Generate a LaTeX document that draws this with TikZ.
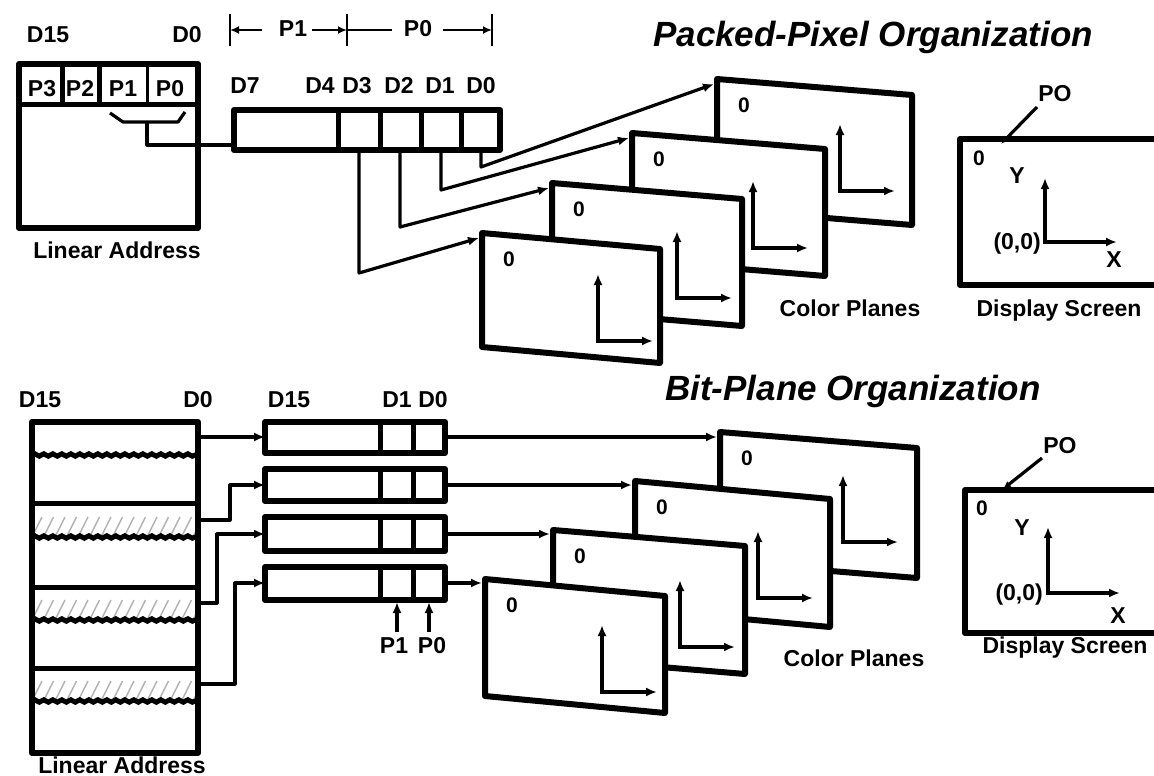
\documentclass[tikz,border=0pt]{standalone}
\usepackage{fontspec}
\setmainfont{Liberation Sans}
\usetikzlibrary{arrows.meta,calc,decorations.pathmorphing}
\tikzset{
  box/.style={line width=6pt, line join=round},
  divider/.style={line width=5pt},
  thindiv/.style={line width=3.5pt},
  conn/.style={line width=3.2pt, line join=round},
  tip/.style={-{Latex[length=11pt,width=9pt]}},
  smalltip/.style={-{Latex[length=8pt,width=7pt]}},
  axis/.style={line width=3.2pt, {Latex[length=11pt,width=9pt]}-{Latex[length=11pt,width=9pt]}},
  planebox/.style={line width=6pt, line join=round, fill=white},
  lbl/.style={font=\bfseries\fontsize{23}{23}\selectfont, inner sep=0pt, anchor=base},
  cell/.style={font=\bfseries\fontsize{23}{23}\selectfont, inner sep=0pt, anchor=base},
  zero/.style={font=\bfseries\fontsize{21}{21}\selectfont, inner sep=0pt},
  ttl/.style={font=\bfseries\itshape\fontsize{35}{35}\selectfont, inner sep=0pt, anchor=base west},
  hatch/.style={gray!60, line width=1.4pt},
  wavy/.style={line width=5pt, decorate, decoration={snake, segment length=9pt, amplitude=1.2pt}},
}
\newcommand\colorplane[8]{%
  \coordinate (#1-tl) at (#2,#3);
  \coordinate (#1-tr) at ($(#1-tl)+(#4,#5)$);
  \coordinate (#1-br) at ($(#1-tr)+(0,#6)$);
  \coordinate (#1-bl) at ($(#1-tl)+(0,#6)$);
  \draw[planebox] (#1-tl) -- (#1-tr) -- (#1-br) -- (#1-bl) -- cycle;
  \node[zero] (#1-z) at ($(#1-tl)+(27,26)$) {0};
  \coordinate (#1-o) at ($(#1-tl)+(#7,#8)$);
  \coordinate (#1-y) at ($(#1-o)+(0,-67)$);
  \coordinate (#1-x) at ($(#1-o)+(55,0)$);
  \draw[axis] (#1-y) -- (#1-o) -- (#1-x);
}
\newcommand\hatchrow[2]{%
  \begin{scope}
    \clip (35,#1) rectangle (195,#2);
    \foreach \k in {0,...,14} {
      \draw[hatch] (32+\k*11.5,#2) -- (42+\k*11.5,#2-20);
    }
  \end{scope}
}
\begin{document}
\begin{tikzpicture}[x=1pt,y=-1pt]
\clip (0,0) rectangle (1154,776);
\fill[white] (0,0) rectangle (1154,776);

% ================= Packed-Pixel =================
\node[ttl] (title1) at (653,47) {Packed-Pixel Organization};
\node[lbl] (ta-d15) at (48,43) {D15};
\node[lbl] (ta-d0) at (187,43) {D0};

% dimension line
\coordinate (k0) at (230,30);
\coordinate (k1) at (347,30);
\coordinate (k2) at (492,30);
\foreach \k in {k0,k1,k2} { \draw[line width=2.8pt] ($(\k)+(0,-16)$) -- ($(\k)+(0,16)$); }
\node[lbl] (dp1) at (293,37) {P1};
\node[lbl] (dp0) at (418,37) {P0};
\coordinate (k0e) at (262,30);
\coordinate (k1s) at (312,30);
\coordinate (k1e) at (392,30);
\coordinate (k2s) at (443,30);
\draw[line width=2.8pt, {Latex[length=9pt,width=8pt]}-] (k0) -- (k0e);
\draw[line width=2.8pt, -{Latex[length=9pt,width=8pt]}] (k1s) -- (k1);
\draw[line width=2.8pt] (k1) -- (k1e);
\draw[line width=2.8pt, -{Latex[length=9pt,width=8pt]}] (k2s) -- (k2);

% linear address (packed)
\draw[box] (19,64) rectangle (198,228);
\draw[divider] (19,104) -- (198,104);
\draw[divider] (62,64) -- (62,104);
\draw[divider] (99,64) -- (99,104);
\draw[thindiv] (147.5,64) -- (147.5,104);
\node[cell] (cp3) at (42,96) {P3};
\node[cell] (cp2) at (80,96) {P2};
\node[cell] (cp1) at (123,96) {P1};
\node[cell] (cp0) at (170,96) {P0};
\draw[conn] (110,113) -- (123,122) -- (178,122) -- (185,112);
\coordinate (brk) at (147,122);
\coordinate (regin) at (234,145);
\draw[conn] (brk) -- (147,145) -- (regin);
\node[lbl] (la1) at (117,258) {Linear Address};

% register (packed)
\draw[box] (234,110) rectangle (500,150);
\foreach \x in {338,380,421,461} { \draw[divider] (\x,110) -- (\x,150); }
\node[lbl] (rd7) at (245,93) {D7};
\node[lbl] (rd4) at (320,93) {D4};
\node[lbl] (rd3) at (357,93) {D3};
\node[lbl] (rd2) at (399,93) {D2};
\node[lbl] (rd1) at (440,93) {D1};
\node[lbl] (rd0) at (481,93) {D0};

% colour planes (packed)
\colorplane{a4}{717}{79}{195}{16}{130}{123}{112}
\colorplane{a3}{632}{133}{193}{16}{127}{121}{115}
\colorplane{a2}{552}{183}{190}{16}{127}{125}{115}
\colorplane{a1}{482}{233}{178}{16}{114}{116}{108}

\coordinate (c3) at (359,150);
\coordinate (c2) at (400,150);
\coordinate (c1) at (441,150);
\coordinate (c0) at (481,150);
\coordinate (a1-in) at (479,238);
\coordinate (a2-in) at (549,188);
\coordinate (a3-in) at (629,138);
\coordinate (a4-in) at (714,84);
\draw[conn,tip] (c3) -- (359,273) -- (a1-in);
\draw[conn,tip] (c2) -- (400,227) -- (a2-in);
\draw[conn,tip] (c1) -- (441,190) -- (a3-in);
\draw[conn,tip] (c0) -- (481,167) -- (a4-in);
\node[lbl] (cpl1) at (850,316) {Color Planes};

% display screen (packed)
\draw[box] (960,139) rectangle (1175,285);
\node[lbl] (po1) at (1055,102) {PO};
\coordinate (po1-s) at (1037,107);
\coordinate (po1-e) at (1001,144);
\draw[conn,smalltip] (po1-s) -- (po1-e);
\node[zero, anchor=base] (s1-z) at (979,165) {0};
\node[lbl] (s1-y) at (1017,183) {Y};
\coordinate (s1-o) at (1045,242);
\coordinate (s1-ya) at (1045,178);
\coordinate (s1-xa) at (1117,242);
\draw[axis] (s1-ya) -- (s1-o) -- (s1-xa);
\node[lbl, anchor=base east] (s1-00) at (1041,249) {(0,0)};
\node[lbl] (s1-x) at (1114,267) {X};
\node[lbl] (ds1) at (1059,316) {Display Screen};

% ================= Bit-Plane =================
\node[ttl] (title2) at (665,400) {Bit-Plane Organization};
\node[lbl] (tb-d15) at (40,407) {D15};
\node[lbl] (tb-d0) at (198,407) {D0};
\node[lbl] (rb-d15) at (289,407) {D15};
\node[lbl] (rb-d1) at (397,407) {D1};
\node[lbl] (rb-d0) at (433,407) {D0};

% linear address (bit-plane)
\hatchrow{503}{537}
\hatchrow{587}{620}
\hatchrow{668}{701}
\draw[box] (32,422) rectangle (198,753);
\foreach \y in {503,587,668} { \draw[divider] (32,\y) -- (198,\y); }
\foreach \y in {455,537,620,701} { \draw[wavy] (32,\y) -- (198,\y); }
\node[lbl] (la2) at (122,773) {Linear Address};

% registers
\draw[box] (265,422) rectangle (445,453);
\draw[box] (265,469) rectangle (445,501);
\draw[box] (265,517) rectangle (445,551);
\draw[box] (265,567) rectangle (445,600);
\foreach \t/\b in {422/453,469/501,517/551,567/600} {
  \draw[divider] (380,\t) -- (380,\b);
  \draw[divider] (413,\t) -- (413,\b);
}
\coordinate (row1) at (198,437);
\coordinate (row3) at (198,520);
\coordinate (row5) at (198,603);
\coordinate (row7) at (198,684);
\coordinate (r1-in) at (265,437);
\coordinate (r2-in) at (265,485);
\coordinate (r3-in) at (265,534);
\coordinate (r4-in) at (265,583);
\draw[conn,tip] (row1) -- (r1-in);
\draw[conn,tip] (row3) -- (230,520) -- (230,485) -- (r2-in);
\draw[conn,tip] (row5) -- (217,603) -- (217,534) -- (r3-in);
\draw[conn,tip] (row7) -- (235,684) -- (235,583) -- (r4-in);

\coordinate (p1b) at (397,632);
\coordinate (p1t) at (397,602);
\coordinate (p0b) at (429,632);
\coordinate (p0t) at (429,602);
\draw[conn,tip] (p1b) -- (p1t);
\draw[conn,tip] (p0b) -- (p0t);
\node[lbl] (bp1) at (394,653) {P1};
\node[lbl] (bp0) at (432,653) {P0};

% colour planes (bit-plane)
\colorplane{b4}{720}{432}{197}{16}{130}{123}{110}
\colorplane{b3}{635}{481}{195}{18}{128}{123}{117}
\colorplane{b2}{553}{530}{192}{16}{128}{127}{117}
\colorplane{b1}{485}{579}{180}{17}{117}{117}{113}

\coordinate (r1-out) at (445,437);
\coordinate (r2-out) at (445,485);
\coordinate (r3-out) at (445,534);
\coordinate (r4-out) at (445,583);
\coordinate (b4-in) at (717,437);
\coordinate (b3-in) at (632,485);
\coordinate (b2-in) at (550,534);
\coordinate (b1-in) at (482,583);
\draw[conn,tip] (r1-out) -- (b4-in);
\draw[conn,tip] (r2-out) -- (b3-in);
\draw[conn,tip] (r3-out) -- (b2-in);
\draw[conn,tip] (r4-out) -- (b1-in);
\node[lbl] (cpl2) at (854,666) {Color Planes};

% display screen (bit-plane)
\draw[box] (965,490) rectangle (1175,633);
\node[lbl] (po2) at (1060,453) {PO};
\coordinate (po2-s) at (1042,458);
\coordinate (po2-e) at (1003,489);
\draw[conn,smalltip] (po2-s) -- (po2-e);
\node[zero, anchor=base] (s2-z) at (982,515) {0};
\node[lbl] (s2-y) at (1022,535) {Y};
\coordinate (s2-o) at (1048,593);
\coordinate (s2-ya) at (1048,527);
\coordinate (s2-xa) at (1120,593);
\draw[axis] (s2-ya) -- (s2-o) -- (s2-xa);
\node[lbl, anchor=base east] (s2-00) at (1043,600) {(0,0)};
\node[lbl] (s2-x) at (1118,623) {X};
\node[lbl] (ds2) at (1065,653) {Display Screen};
\end{tikzpicture}
\end{document}
